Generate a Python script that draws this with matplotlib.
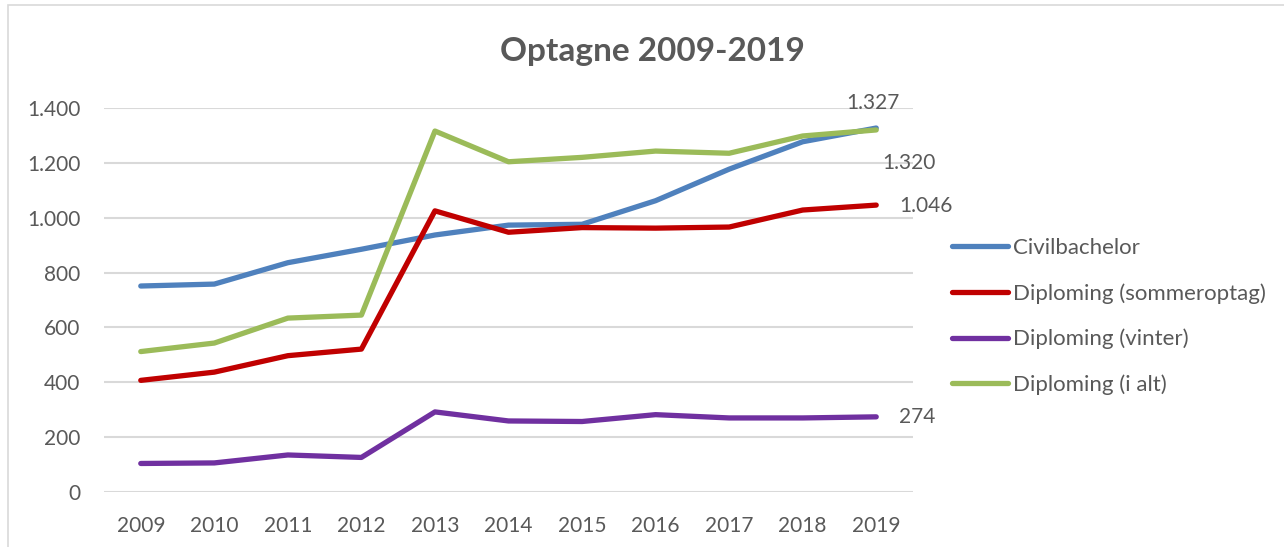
import matplotlib.pyplot as plt
from matplotlib.patches import Rectangle

years = ['2009', '2010', '2011', '2012', '2013', '2014', '2015', '2016', '2017', '2018', '2019']
civilbachelor = [751, 758, 836, 885, 937, 973, 976, 1062, 1177, 1277, 1327]
sommeroptag = [407, 437, 497, 521, 1025, 947, 964, 962, 966, 1028, 1046]
vinter = [104, 106, 135, 126, 292, 259, 257, 282, 270, 270, 274]
i_alt = [512, 543, 634, 645, 1316, 1204, 1220, 1243, 1235, 1298, 1320]

series_names = ['Civilbachelor', 'Diploming (sommeroptag)', 'Diploming (vinter)', 'Diploming (i alt)']
colors = ['#4F81BD', '#C00000', '#7030A0', '#9BBB59']

plt.rcParams['font.family'] = ['Lato', 'DejaVu Sans']
text_color = '#595959'
fs = 15

fig = plt.figure(figsize=(12.84, 5.47), dpi=100)
ax = fig.add_axes([104 / 1284, 1 - 492 / 547, (913 - 104) / 1284, (492 - 108) / 547])

x = list(range(len(years)))
for vals, name, c in zip([civilbachelor, sommeroptag, vinter, i_alt], series_names, colors):
    ax.plot(x, vals, color=c, lw=3.8, label=name, solid_capstyle='round', solid_joinstyle='round')

ax.set_xlim(-0.5, len(years) - 0.5)
ax.set_ylim(0, 1400)
ax.set_yticks(range(0, 1401, 200))
ax.set_yticklabels([f'{v:,}'.replace(',', '.') for v in range(0, 1401, 200)])
ax.set_xticks(x)
ax.set_xticklabels(years)
ax.tick_params(axis='both', length=0, labelsize=fs, colors=text_color)
ax.tick_params(axis='y', pad=17)
ax.tick_params(axis='x', pad=17)
ax.grid(axis='y', color='#D9D9D9', lw=1.5)
ax.set_axisbelow(True)
for s in ax.spines.values():
    s.set_visible(False)

# end labels
last = len(years) - 1
lab = lambda v: f'{v:,}'.replace(',', '.')
ax.annotate(lab(civilbachelor[-1]), (last, civilbachelor[-1]), xytext=(-3, 25), textcoords='offset pixels',
            ha='center', va='center', fontsize=fs, color=text_color)
ax.annotate(lab(i_alt[-1]), (last, i_alt[-1]), xytext=(6, -33), textcoords='offset pixels',
            ha='left', va='center', fontsize=fs, color=text_color)
ax.annotate(lab(sommeroptag[-1]), (last, sommeroptag[-1]), xytext=(23, -1), textcoords='offset pixels',
            ha='left', va='center', fontsize=fs, color=text_color)
ax.annotate(lab(vinter[-1]), (last, vinter[-1]), xytext=(23, 0), textcoords='offset pixels',
            ha='left', va='center', fontsize=fs, color=text_color)

fig.text(652 / 1284, 1 - 52 / 547, 'Optagne 2009-2019', ha='center', va='center',
         fontsize=24, fontweight='bold', color=text_color)

leg = fig.legend(loc='upper left', bbox_to_anchor=(952 / 1284, 1 - 238 / 547), frameon=False,
                 fontsize=16, handlelength=2.5, handletextpad=0.25, labelspacing=1.13,
                 borderaxespad=0, borderpad=0)
for t in leg.get_texts():
    t.set_color(text_color)

fig.patches.append(Rectangle((8 / 1284, -0.1), 1.1, 1 - 5 / 547 + 0.1, transform=fig.transFigure,
                             fill=False, edgecolor='#D9D9D9', lw=1.2))

fig.savefig('out.png', dpi=100)
